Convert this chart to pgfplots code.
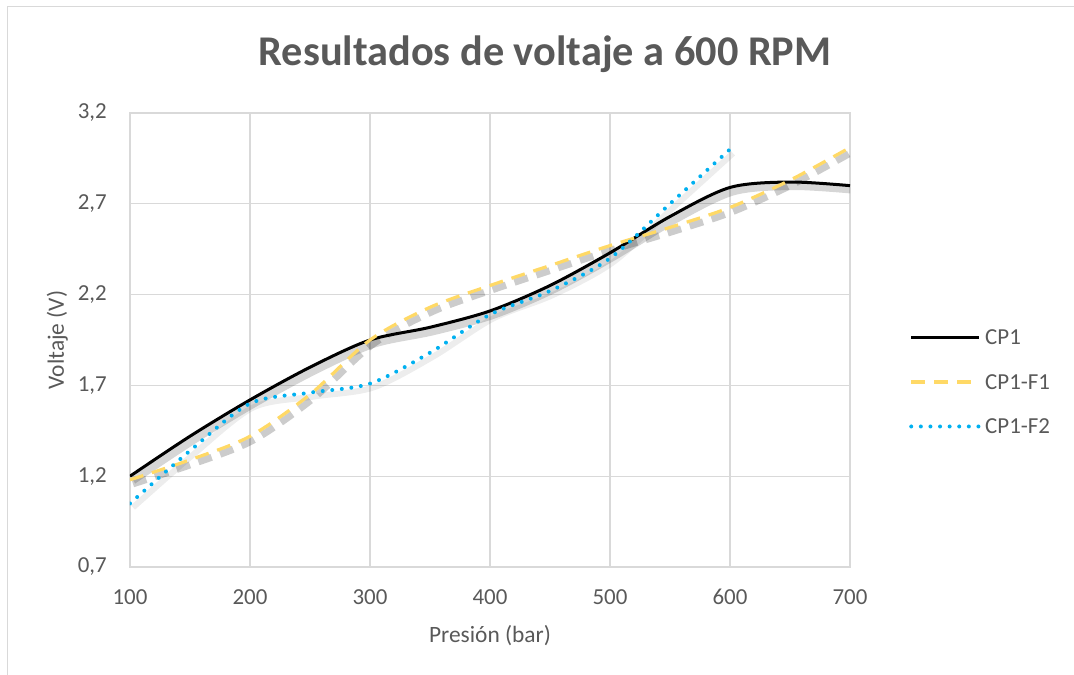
\documentclass[border=0pt]{standalone}
\usepackage{fontspec}
\setmainfont{Carlito}
\usepackage{pgfplots}
\pgfplotsset{compat=1.18}
\definecolor{txt}{HTML}{595959}
\definecolor{gridc}{HTML}{D9D9D9}
\definecolor{cpfone}{HTML}{FFD966}
\definecolor{cpftwo}{HTML}{00B0F0}

\pgfplotstableread{
x y
100 1.20
150 1.42
200 1.62
250 1.80
300 1.95
350 2.02
400 2.11
450 2.25
500 2.43
550 2.63
600 2.79
650 2.82
700 2.80
}\cpone
\pgfplotstableread{
x y
100 1.18
150 1.29
200 1.42
250 1.65
300 1.95
350 2.13
400 2.25
450 2.36
500 2.47
550 2.57
600 2.68
650 2.83
700 3.01
}\cpfa
\pgfplotstableread{
x y
100 1.05
150 1.34
200 1.60
250 1.66
300 1.71
350 1.88
400 2.09
450 2.22
500 2.40
550 2.70
600 3.00
}\cpfb

\begin{document}
\begin{tikzpicture}
\path[use as bounding box] (-130bp,-108bp) rectangle (944bp,567bp);
\draw[gridc, line width=1.5bp] (-122.5bp,-108bp) -- (-122.5bp,560.5bp) -- (944bp,560.5bp);
\begin{axis}[
  at={(0,0)}, anchor=south west, scale only axis,
  width=720bp, height=454bp,
  xmin=100, xmax=700, ymin=0.7, ymax=3.2,
  xtick={100,200,300,400,500,600,700},
  ytick={0.7,1.2,1.7,2.2,2.7,3.2},
  grid=major, major grid style={gridc, line width=1.3bp},
  axis line style={gridc, line width=1.3bp},
  major tick length=0pt,
  /pgf/number format/assume math mode=true,
  tick label style={font=\fontsize{23}{23}\selectfont, text=txt, inner sep=0pt},
  xticklabel style={anchor=north, yshift=-22bp},
  yticklabel style={anchor=east, xshift=-23bp, /pgf/number format/.cd, fixed, fixed zerofill, precision=1, use comma},
  title={Resultados de voltaje a 600 RPM},
  title style={at={(0.5764,1.0915)}, anchor=base, font=\fontsize{42.5}{42.5}\selectfont\bfseries, text=txt, inner sep=0pt},
  xlabel={Presión (bar)},
  xlabel style={at={(axis description cs:0.5,0)}, anchor=base, yshift=-75bp, font=\fontsize{23.5}{23.5}\selectfont, text=txt, inner sep=0pt},
  ylabel={Voltaje (V)},
  ylabel style={at={(axis description cs:-0.0917,0.5)}, anchor=base, rotate=0, font=\fontsize{23.5}{23.5}\selectfont, text=txt, inner sep=0pt},
  legend style={at={(1.082,0.4075)}, anchor=west, draw=none, fill=none,
    font=\fontsize{23}{23}\selectfont, text=txt, row sep=29.5bp, inner sep=0pt,
    nodes={inner sep=0pt, text height=15bp, text depth=0bp}},
  legend cell align=left,
  legend image code/.code={\draw[#1] (0bp,0bp) -- (68bp,0bp);},
  every axis legend/.append style={/tikz/every odd column/.append style={column sep=4bp}},
]
% shadows
\addplot[forget plot, black, opacity=0.16, line width=8bp, smooth, shift={(3bp,-4bp)}] table {\cpone};
\addplot[forget plot, black, opacity=0.2, line width=7bp, smooth, dash pattern=on 14bp off 9bp, shift={(3bp,-4bp)}] table {\cpfa};
\addplot[forget plot, black, opacity=0.07, line width=6bp, smooth, shift={(3bp,-4bp)}] table {\cpfb};
% series
\addplot[black, line width=3bp, smooth] table {\cpone};
\addlegendentry{CP1}
\addplot[cpfone, line width=3.2bp, smooth, dash pattern=on 14bp off 9bp] table {\cpfa};
\addlegendentry{CP1-F1}
\addplot[cpftwo, line width=4bp, smooth, line cap=round, dash pattern=on 0bp off 9.6bp] table {\cpfb};
\addlegendentry{CP1-F2}
\end{axis}
\end{tikzpicture}
\end{document}
